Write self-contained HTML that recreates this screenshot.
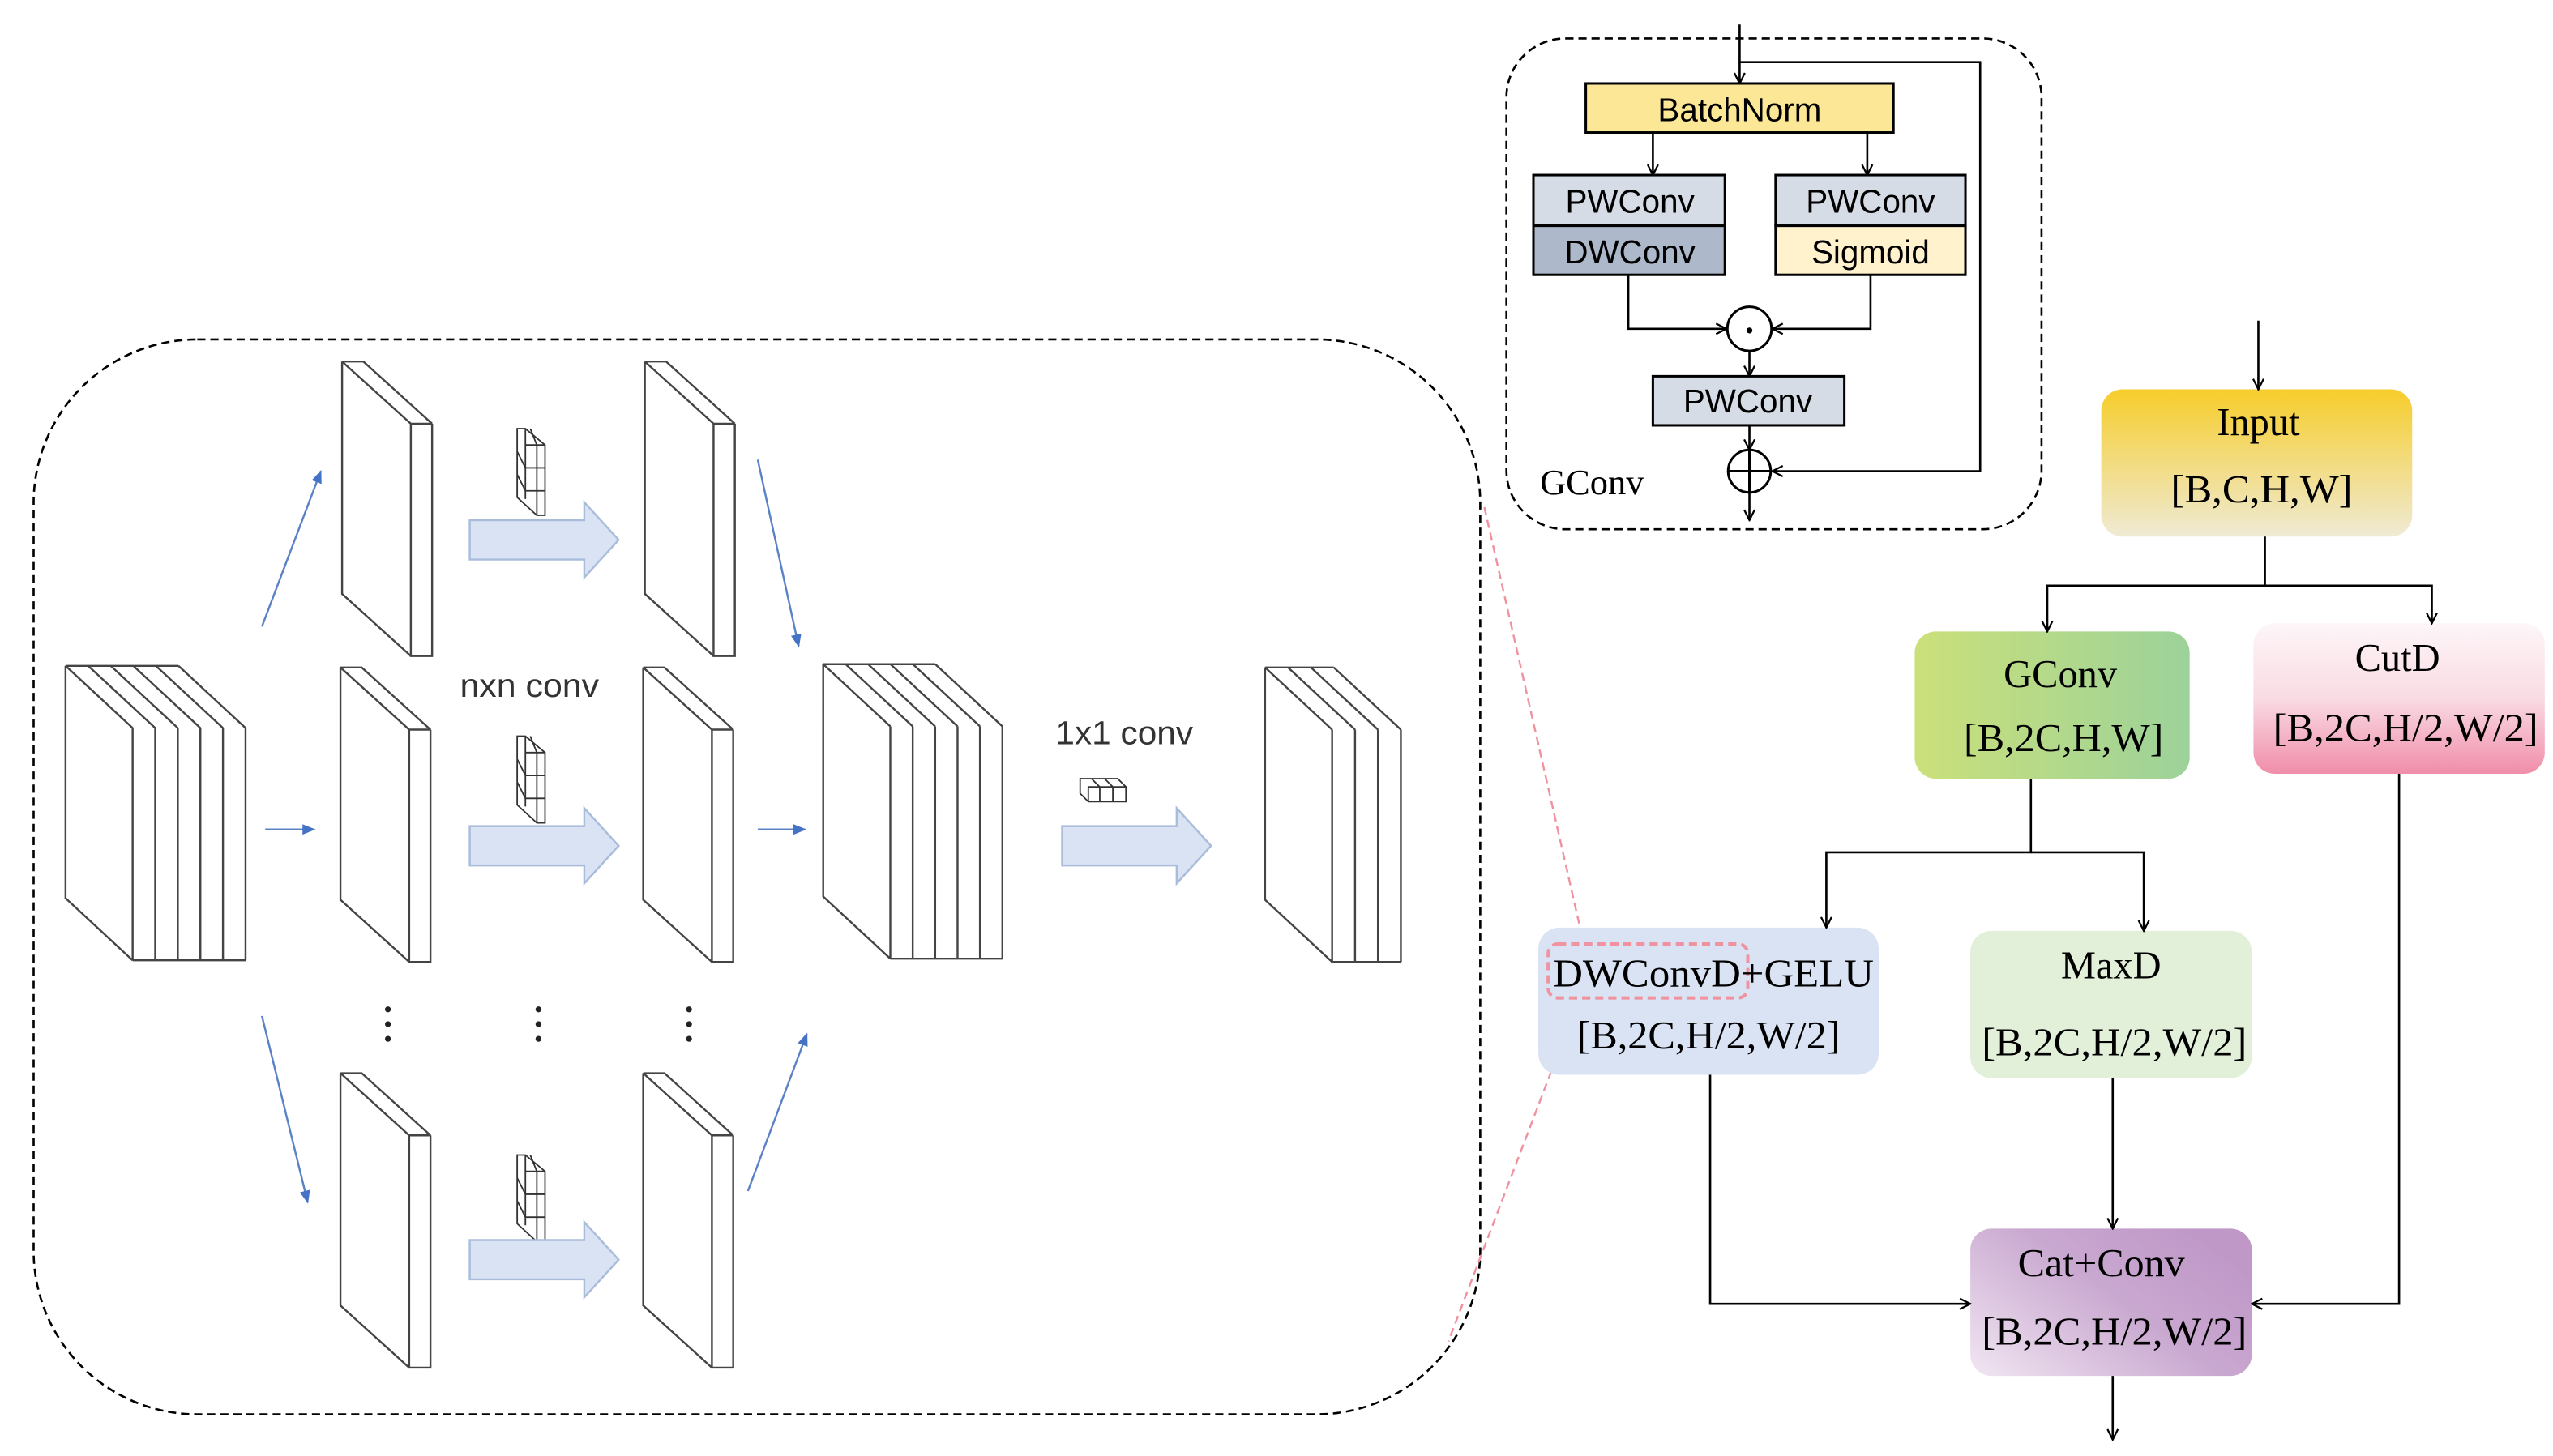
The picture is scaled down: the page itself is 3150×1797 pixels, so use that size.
<!DOCTYPE html>
<html><head><meta charset="utf-8"><style>
html,body{margin:0;padding:0;background:#fff;}
svg{display:block;}
</style></head><body>
<svg width="3150" height="1797" viewBox="0 0 1560 890" xmlns="http://www.w3.org/2000/svg">
<defs>
<marker id="ah" viewBox="0 0 10 10" refX="9" refY="5" markerWidth="8" markerHeight="8" orient="auto" markerUnits="userSpaceOnUse">
<path d="M1 1L9 5L1 9" fill="none" stroke="#000" stroke-width="1.4"/></marker>
<marker id="bh" viewBox="0 0 10 10" refX="9" refY="5" markerWidth="8" markerHeight="8" orient="auto" markerUnits="userSpaceOnUse">
<path d="M0 1L10 5L0 9Z" fill="#4472c4"/></marker>
<linearGradient id="gIn" x1="0" y1="0" x2="0" y2="1"><stop offset="0" stop-color="#f6cd2b"/><stop offset="1" stop-color="#efead4"/></linearGradient>
<linearGradient id="gGc" x1="0" y1="0" x2="1" y2="0"><stop offset="0" stop-color="#cbe07a"/><stop offset="1" stop-color="#9cd29a"/></linearGradient>
<linearGradient id="gCut" x1="0" y1="0" x2="0" y2="1"><stop offset="0" stop-color="#fdf6f8"/><stop offset="0.5" stop-color="#f9dbe3"/><stop offset="1" stop-color="#f08daa"/></linearGradient>
<linearGradient id="gCat" x1="0" y1="1" x2="1" y2="0.3"><stop offset="0" stop-color="#f1e6f2"/><stop offset="0.6" stop-color="#c9a8d0"/><stop offset="1" stop-color="#bf98c8"/></linearGradient>
<g id="slab" fill="none" stroke="#444" stroke-width="1.2">
<path d="M0 0H13L55 38 M0 0L42 38H55 M42 38V180H55V38 M0 0V142L42 180"/>
</g>
<g id="kern" fill="none" stroke="#333" stroke-width="0.9">
<path d="M316 262H321L333 272V315H328L316 304Z M321 262V305 M328 272V315 M321 272H333 M316 276L321 286H333 M316 290L321 300H333 M324 262L328 272"/>
</g>
<g id="bigarrow"><path d="M0 -12H70V-23L91 0L70 23V12H0Z" fill="#dae3f3" stroke="#a9bcdb" stroke-width="1.2"/></g>
</defs>

<!-- left dashed box -->
<rect x="20.5" y="207.5" width="884" height="657" rx="100" fill="none" stroke="#000" stroke-width="1.3" stroke-dasharray="5,3"/>

<!-- stacks -->
<g fill="none" stroke="#444" stroke-width="1.2">
<path d="M40 407H109 M40 407L81 445 M53.8 407L94.8 445 M67.6 407L108.6 445 M81.4 407L122.4 445 M95.2 407L136.2 445 M109 407L150 445 M81 445V587 M94.8 445V587 M108.6 445V587 M122.4 445V587 M136.2 445V587 M150 445V587 M81 587H150 M40 407V549L81 587"/>
<path d="M503 406H571.5 M503 406L544 444 M516.7 406L557.7 444 M530.4 406L571.4 444 M544.1 406L585.1 444 M557.8 406L598.8 444 M571.5 406L612.5 444 M544 444V586 M557.7 444V586 M571.4 444V586 M585.1 444V586 M598.8 444V586 M612.5 444V586 M544 586H612.5 M503 406V548L544 586"/>
<path d="M773 408H815 M773 408L814 446 M787 408L828 446 M801 408L842 446 M815 408L856 446 M814 446V588 M828 446V588 M842 446V588 M856 446V588 M814 588H856 M773 408V550L814 588"/>
</g>
<use href="#slab" x="209" y="221"/>
<use href="#slab" x="208" y="408"/>
<use href="#slab" x="208" y="656"/>
<use href="#slab" x="394" y="221"/>
<use href="#slab" x="393" y="408"/>
<use href="#slab" x="393" y="656"/>

<!-- kernels -->
<use href="#kern"/>
<use href="#kern" y="188"/>
<use href="#kern" y="444"/>
<g fill="none" stroke="#333" stroke-width="0.9"><path d="M660 476H683L688 481V490H665L660 485Z M665 481H688 M665 481V490 M672 481V490 M680 481V490 M667 476L672 481 M675 476L680 481"/></g>

<!-- big arrows -->
<use href="#bigarrow" x="287" y="330"/>
<use href="#bigarrow" x="287" y="517"/>
<use href="#bigarrow" x="287" y="770"/>
<use href="#bigarrow" x="649" y="517"/>

<!-- thin blue arrows -->
<g stroke="#5b82c6" stroke-width="1.2" marker-end="url(#bh)">
<line x1="160" y1="383" x2="196" y2="288"/>
<line x1="162" y1="507" x2="192" y2="507"/>
<line x1="160" y1="621" x2="188" y2="735"/>
<line x1="463" y1="281" x2="488" y2="395"/>
<line x1="463" y1="507" x2="492" y2="507"/>
<line x1="457" y1="728" x2="493" y2="632"/>
</g>
<g fill="#222"><circle cx="237" cy="617" r="1.8"/><circle cx="237" cy="626" r="1.8"/><circle cx="237" cy="635" r="1.8"/>
<circle cx="329" cy="617" r="1.8"/><circle cx="329" cy="626" r="1.8"/><circle cx="329" cy="635" r="1.8"/>
<circle cx="421" cy="617" r="1.8"/><circle cx="421" cy="626" r="1.8"/><circle cx="421" cy="635" r="1.8"/></g>
<g font-family="Liberation Sans, sans-serif" font-size="20" fill="#333">
<text x="281" y="426" textLength="85" lengthAdjust="spacingAndGlyphs">nxn conv</text>
<text x="645" y="455" textLength="84" lengthAdjust="spacingAndGlyphs">1x1 conv</text>
</g>

<!-- pink dashed -->
<g fill="none" stroke="#f0929f" stroke-width="1.2" stroke-dasharray="5,3">
<line x1="907" y1="310" x2="968" y2="578"/>
<line x1="965" y1="610" x2="885" y2="820"/>
</g>

<!-- GConv box -->
<rect x="920.5" y="23.5" width="327" height="300" rx="36" fill="none" stroke="#000" stroke-width="1.3" stroke-dasharray="5,3"/>
<g stroke="#000" stroke-width="1.3" fill="none">
<line x1="1063" y1="15" x2="1063" y2="51" marker-end="url(#ah)"/>
<path d="M1063 38H1210V288H1083" marker-end="url(#ah)"/>
<line x1="1010" y1="81" x2="1010" y2="107" marker-end="url(#ah)"/>
<line x1="1141" y1="81" x2="1141" y2="107" marker-end="url(#ah)"/>
<path d="M995 168V201H1055" marker-end="url(#ah)"/>
<path d="M1143 168V201H1083" marker-end="url(#ah)"/>
<line x1="1069" y1="214" x2="1069" y2="230" marker-end="url(#ah)"/>
<line x1="1069" y1="260" x2="1069" y2="275" marker-end="url(#ah)"/>
<line x1="1069" y1="301" x2="1069" y2="318" marker-end="url(#ah)"/>
</g>
<g stroke="#000" stroke-width="1.5">
<rect x="969" y="51" width="188" height="30" fill="#fce796"/>
<rect x="937" y="107" width="117" height="31" fill="#d6dce5"/>
<rect x="937" y="138" width="117" height="30" fill="#adb9ca"/>
<rect x="1085" y="107" width="116" height="31" fill="#d6dce5"/>
<rect x="1085" y="138" width="116" height="30" fill="#fff2cc"/>
<rect x="1010" y="230" width="117" height="30" fill="#d6dce5"/>
<circle cx="1069" cy="201" r="13.5" fill="#fff"/>
<circle cx="1069" cy="288" r="13" fill="#fff"/>
<path d="M1056 288H1082 M1069 275V301" fill="none"/>
</g>
<circle cx="1069" cy="202" r="1.8" fill="#000"/>
<g font-family="Liberation Sans, sans-serif" font-size="20" fill="#000" text-anchor="middle">
<text x="1063" y="74">BatchNorm</text>
<text x="996" y="130">PWConv</text>
<text x="996" y="161">DWConv</text>
<text x="1143" y="130">PWConv</text>
<text x="1143" y="161">Sigmoid</text>
<text x="1068" y="252">PWConv</text>
</g>
<text x="941" y="302" font-family="Liberation Serif, serif" font-size="22" fill="#000">GConv</text>

<!-- right flowchart boxes -->
<rect x="1284" y="238" width="190" height="90" rx="13" fill="url(#gIn)"/>
<rect x="1170" y="386" width="168" height="90" rx="13" fill="url(#gGc)"/>
<rect x="1377" y="381" width="178" height="92" rx="13" fill="url(#gCut)"/>
<rect x="940" y="567" width="208" height="90" rx="13" fill="#dae3f3"/>
<rect x="1204" y="569" width="172" height="90" rx="13" fill="#e2efd9"/>
<rect x="1204" y="751" width="172" height="90" rx="13" fill="url(#gCat)"/>
<rect x="946" y="577" width="122" height="33" rx="6" fill="none" stroke="#f0929f" stroke-width="2" stroke-dasharray="5,3"/>

<g stroke="#000" stroke-width="1.3" fill="none">
<line x1="1380" y1="196" x2="1380" y2="238" marker-end="url(#ah)"/>
<path d="M1384 328V358H1251V386" marker-end="url(#ah)"/>
<path d="M1384 358H1486V381" marker-end="url(#ah)"/>
<path d="M1241 476V521H1116V567" marker-end="url(#ah)"/>
<path d="M1241 521H1310V569" marker-end="url(#ah)"/>
<path d="M1045 657V797H1204" marker-end="url(#ah)"/>
<line x1="1291" y1="659" x2="1291" y2="751" marker-end="url(#ah)"/>
<path d="M1466 473V797H1376" marker-end="url(#ah)"/>
<line x1="1291" y1="841" x2="1291" y2="880" marker-end="url(#ah)"/>
</g>

<g font-family="Liberation Serif, serif" font-size="24" fill="#000" text-anchor="middle">
<text x="1380" y="266">Input</text>
<text x="1382" y="307" textLength="111" lengthAdjust="spacingAndGlyphs">[B,C,H,W]</text>
<text x="1259" y="420">GConv</text>
<text x="1261" y="459" textLength="122" lengthAdjust="spacingAndGlyphs">[B,2C,H,W]</text>
<text x="1465" y="410">CutD</text>
<text x="1470" y="453" textLength="162" lengthAdjust="spacingAndGlyphs">[B,2C,H/2,W/2]</text>
<text x="1047" y="603" textLength="196" lengthAdjust="spacingAndGlyphs">DWConvD+GELU</text>
<text x="1044" y="641" textLength="161" lengthAdjust="spacingAndGlyphs">[B,2C,H/2,W/2]</text>
<text x="1290" y="598">MaxD</text>
<text x="1292" y="645" textLength="162" lengthAdjust="spacingAndGlyphs">[B,2C,H/2,W/2]</text>
<text x="1284" y="780" textLength="102" lengthAdjust="spacingAndGlyphs">Cat+Conv</text>
<text x="1292" y="822" textLength="162" lengthAdjust="spacingAndGlyphs">[B,2C,H/2,W/2]</text>
</g>
</svg>
</body></html>
